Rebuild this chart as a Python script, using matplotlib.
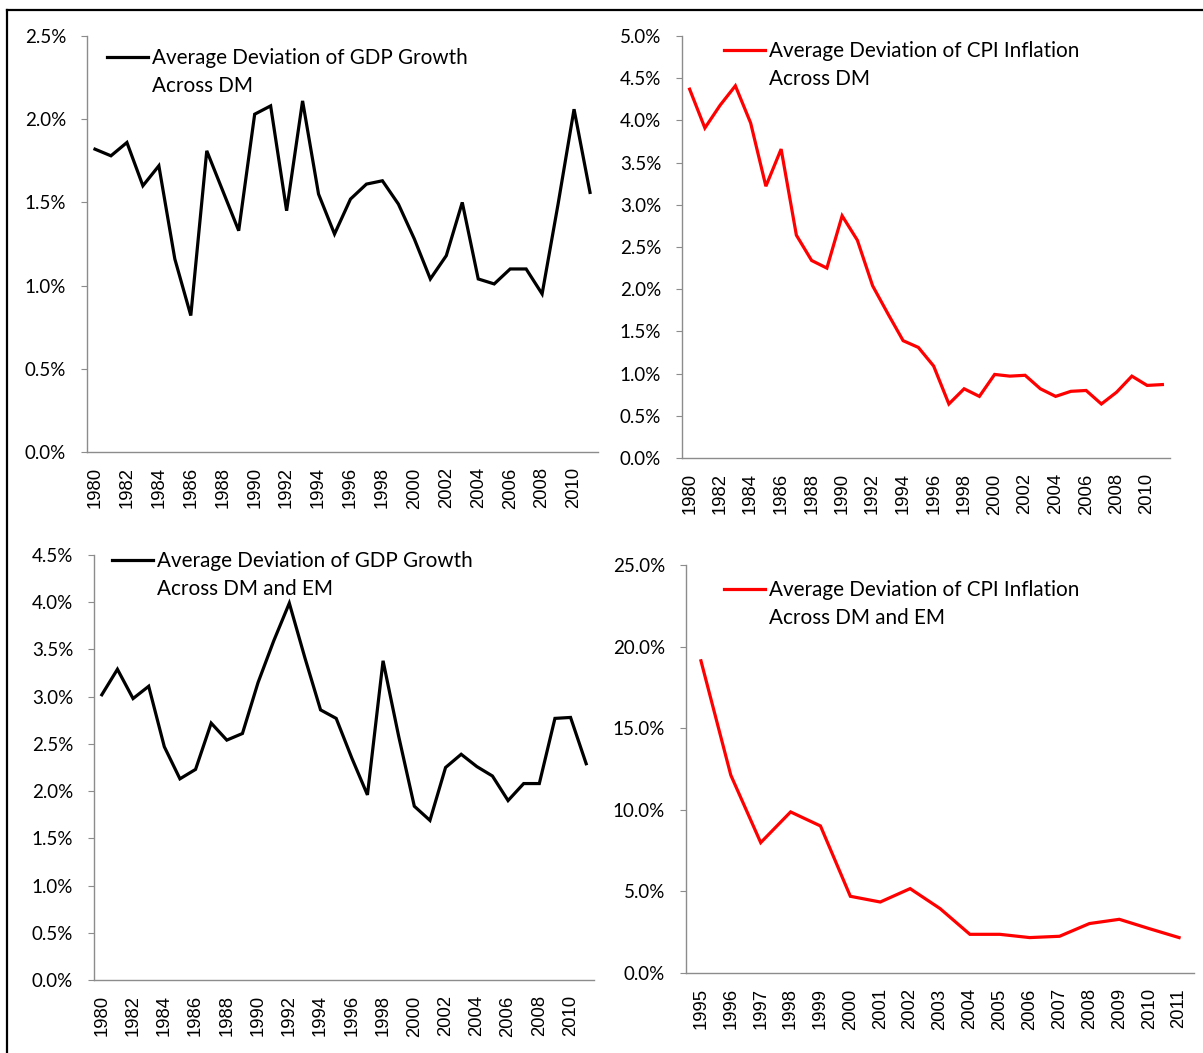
import numpy as np
import matplotlib.pyplot as plt
from matplotlib.lines import Line2D
from matplotlib.ticker import FuncFormatter

# data (values in %)
years_long = list(range(1980, 2012))
years_short = list(range(1995, 2012))

gdp_dm = [1.82, 1.78, 1.86, 1.60, 1.72, 1.16, 0.82, 1.81, 1.57, 1.33,
          2.03, 2.08, 1.45, 2.11, 1.55, 1.31, 1.52, 1.61, 1.63, 1.49,
          1.28, 1.04, 1.18, 1.50, 1.04, 1.01, 1.10, 1.10, 0.95, 1.49,
          2.06, 1.56]

cpi_dm = [4.37, 3.91, 4.18, 4.41, 3.97, 3.22, 3.66, 2.64, 2.34, 2.25,
          2.87, 2.58, 2.04, 1.71, 1.39, 1.31, 1.09, 0.64, 0.82, 0.73,
          0.99, 0.97, 0.98, 0.82, 0.73, 0.79, 0.80, 0.64, 0.78, 0.97,
          0.86, 0.87]

gdp_all = [3.02, 3.29, 2.98, 3.11, 2.47, 2.13, 2.23, 2.72, 2.54, 2.61,
           3.15, 3.59, 3.99, 3.41, 2.86, 2.77, 2.35, 1.96, 3.38, 2.58,
           1.84, 1.69, 2.25, 2.39, 2.26, 2.16, 1.90, 2.08, 2.08, 2.77,
           2.78, 2.29]

cpi_all = [19.13, 12.12, 7.99, 9.87, 9.01, 4.70, 4.35, 5.17, 3.95, 2.37,
           2.37, 2.17, 2.25, 3.03, 3.29, 2.72, 2.17]

labels = [("Average Deviation of GDP Growth", "Across DM"),
          ("Average Deviation of CPI Inflation", "Across DM"),
          ("Average Deviation of GDP Growth", "Across DM and EM"),
          ("Average Deviation of CPI Inflation", "Across DM and EM")]

W, H = 1203, 1053
fig = plt.figure(figsize=(W / 100, H / 100), dpi=100)

def box(l, r, t, b):
    return [l / W, (H - b) / H, (r - l) / W, (b - t) / H]

# axes box, x, y, colour, ymax, ystep, label step, legend text, legend top-left (px)
panels = [
    (box(87, 598, 36, 452), years_long, gdp_dm, 'black', 2.5, 0.5, 2, labels[0], (107, 48)),
    (box(682, 1170, 36, 458), years_long, cpi_dm, 'red', 5.0, 0.5, 2, labels[1], (724, 41)),
    (box(94, 594, 555, 980), years_long, gdp_all, 'black', 4.5, 0.5, 2, labels[2], (112, 551)),
    (box(686, 1194, 565, 973), years_short, cpi_all, 'red', 25.0, 5.0, 1, labels[3], (724, 580)),
]

gray = '#8c8c8c'
ytick_font = 'Lato'
xtick_font = 'Liberation Sans'

for rect, yrs, vals, col, ymax, ystep, xstep, lab, lpos in panels:
    ax = fig.add_axes(rect)
    x = np.arange(len(yrs))
    ax.plot(x, vals, color=col, lw=2.3, label=lab[0], solid_joinstyle='miter')
    ax.set_xlim(-0.5, len(yrs) - 0.5)
    ax.set_ylim(0, ymax)
    ax.set_yticks(np.arange(0, ymax + ystep / 2, ystep))
    ax.yaxis.set_major_formatter(FuncFormatter(lambda v, p: '%.1f%%' % v))
    ax.set_xticks(x[::xstep])
    ax.set_xticklabels([str(y) for y in yrs[::xstep]], rotation=90,
                       fontfamily=xtick_font, fontsize=13.3)
    for t in ax.get_yticklabels():
        t.set_fontfamily(ytick_font)
        t.set_fontsize(13.5)
    ax.tick_params(axis='y', length=4, width=0.8, color=gray, pad=11)
    ax.tick_params(axis='x', length=0, pad=11)
    for s in ['top', 'right']:
        ax.spines[s].set_visible(False)
    for s in ['left', 'bottom']:
        ax.spines[s].set_color(gray)
        ax.spines[s].set_linewidth(1.0)
    ax.patch.set_alpha(0)

    leg = ax.legend(loc='upper left', bbox_to_anchor=(lpos[0] / W, 1 - lpos[1] / H),
                    bbox_transform=fig.transFigure, frameon=False, borderpad=0,
                    borderaxespad=0, handlelength=1.98, handletextpad=0.2,
                    prop={'family': ytick_font, 'size': 14.9})
    # second line of the label, under the first one (drawn after the legend)
    ax.annotate(lab[1], xy=(0, 0), xycoords=leg.get_texts()[0],
                xytext=(0, -5.5), textcoords='offset points', va='top', ha='left',
                family=ytick_font, fontsize=14.9, zorder=6)

# frame around the figure (top and left only)
fig.add_artist(Line2D([7 / W, 1], [1 - 10 / H, 1 - 10 / H], color='black', lw=1.6,
                      transform=fig.transFigure))
fig.add_artist(Line2D([7 / W, 7 / W], [0, 1 - 10 / H], color='black', lw=1.6,
                      transform=fig.transFigure))

fig.savefig('out.png', dpi=100)
